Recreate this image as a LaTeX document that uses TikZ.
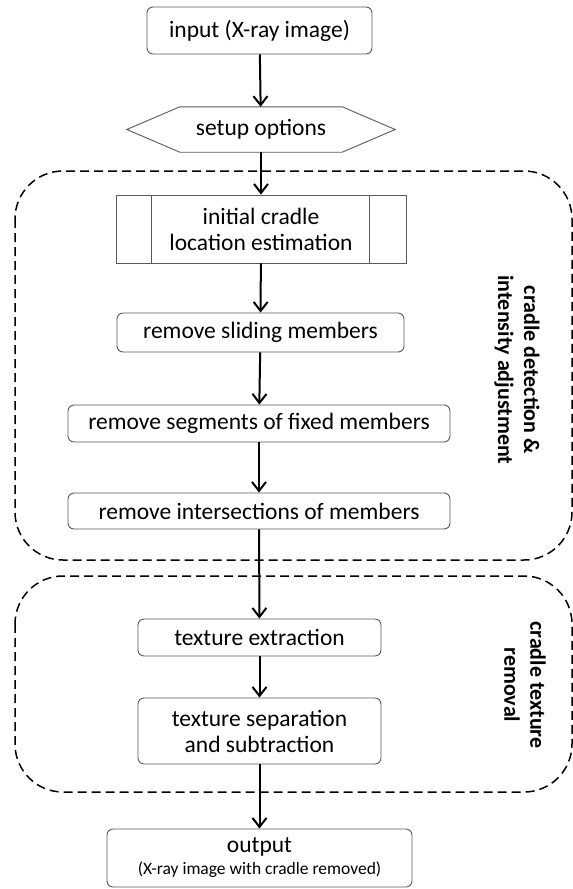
\documentclass[tikz,border=0pt]{standalone}
\usepackage{fontspec}
\setmainfont{Carlito}
\usetikzlibrary{arrows.meta,calc}

\tikzset{
  stepbox/.style={draw=black!65, line width=0.9pt, rounded corners=6pt,
    align=center, inner sep=0pt, font=\fontsize{23.5}{26}\selectfont},
  plainbox/.style={draw=black!65, line width=0.9pt,
    align=center, inner sep=0pt, font=\fontsize{23.5}{26}\selectfont},
  flow/.style={line width=2pt, -{Straight Barb[length=9pt,width=14pt,line width=2pt]}},
  group/.style={draw=black, line width=1.5pt, dash pattern=on 9pt off 5pt, rounded corners=48pt},
  grouplabel/.style={rotate=-90, align=center, font=\bfseries\fontsize{22}{26}\selectfont}
}

\begin{document}
\begin{tikzpicture}[x=1pt,y=-1pt]
  \useasboundingbox (0,0) rectangle (573,889);

  % stage groups
  \draw[group] (15,171) rectangle (572,560);
  \draw[group] (15,576) rectangle (572,792);
  \node[grouplabel] (lab1) at (517,370) {cradle detection \&\\intensity adjustment};
  \node[grouplabel] (lab2) at (525,685) {cradle texture\\removal};

  % process steps
  \node[stepbox, minimum width=225pt, minimum height=47pt] (input) at (259.5,30.5) {input (X-ray image)};
  \node[inner sep=0pt, minimum width=162pt, minimum height=45pt, font=\fontsize{23.5}{26}\selectfont] (setup) at (261,129.5) {setup options};
  \draw[black!65, line width=0.9pt] (setup.north west) -- (setup.north east) -- ([xshift=53pt]setup.east)
     -- (setup.south east) -- (setup.south west) -- ([xshift=-53pt]setup.west) -- cycle;
  \node[plainbox, minimum width=290pt, minimum height=68pt] (init) at (261,229) {initial cradle\\location estimation};
  \draw[black!65, line width=0.9pt] ([xshift=36pt]init.north west) -- ([xshift=36pt]init.south west);
  \draw[black!65, line width=0.9pt] ([xshift=-37pt]init.north east) -- ([xshift=-37pt]init.south east);
  \node[stepbox, minimum width=287pt, minimum height=39pt] (slide) at (260.5,332.5) {remove sliding members};
  \node[stepbox, minimum width=382pt, minimum height=37pt] (fixed) at (259,423.5) {remove segments of fixed members};
  \node[stepbox, minimum width=382pt, minimum height=36pt] (inter) at (259,511) {remove intersections of members};
  \node[stepbox, minimum width=243pt, minimum height=37pt] (extr) at (259.5,637.5) {texture extraction};
  \node[stepbox, minimum width=243pt, minimum height=66pt] (sep) at (259.5,731) {texture separation\\and subtraction};
  \node[stepbox, minimum width=305pt, minimum height=58pt] (out) at (259.5,858)
    {output\\[-4pt]{\fontsize{17.5}{19}\selectfont (X-ray image with cradle removed)}};

  % connectors
  \draw[flow] (input) -- (setup);
  \draw[flow] (setup) -- (init);
  \draw[flow] (init) -- (slide);
  \draw[flow] (slide) -- (fixed);
  \draw[flow] (fixed) -- (inter);
  \draw[flow] (inter) -- (extr);
  \draw[flow] (extr) -- (sep);
  \draw[flow] (sep) -- (out);
\end{tikzpicture}
\end{document}
